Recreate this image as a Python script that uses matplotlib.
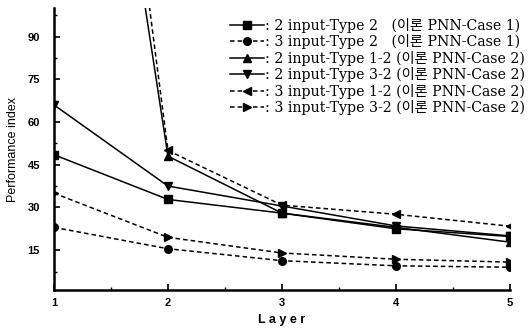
import numpy as np
import matplotlib.pyplot as plt
from matplotlib.ticker import MultipleLocator

# Data
layers = [1, 2, 3, 4, 5]
s_2in_t2 = [48.5, 32.8, 28.0, 22.5, 19.8]
s_3in_t2 = [23.0, 15.5, 11.3, 9.5, 9.0]
s_2in_t12 = [310.0, 48.0, 28.0, 23.0, 17.8]
s_2in_t32 = [66.0, 37.5, 30.5, 23.5, 20.0]
s_3in_t12 = [360.0, 50.0, 30.8, 27.6, 23.4]
s_3in_t32 = [35.0, 19.5, 14.0, 11.8, 10.8]

labels = [
    ": 2 input-Type 2   (이론 PNN-Case 1)",
    ": 3 input-Type 2   (이론 PNN-Case 1)",
    ": 2 input-Type 1-2 (이론 PNN-Case 2)",
    ": 2 input-Type 3-2 (이론 PNN-Case 2)",
    ": 3 input-Type 1-2 (이론 PNN-Case 2)",
    ": 3 input-Type 3-2 (이론 PNN-Case 2)",
]
series = [s_2in_t2, s_3in_t2, s_2in_t12, s_2in_t32, s_3in_t12, s_3in_t32]
markers = ["s", "o", "^", "v", "<", ">"]
styles = ["-", "--", "-", "-", "--", "--"]

fig = plt.figure(figsize=(5.29, 3.29), dpi=100, facecolor="white")
ax = fig.add_axes([0.102, 0.1185, 0.862, 0.857])

for vals, mk, ls, lab in zip(series, markers, styles, labels):
    ax.plot(layers, vals, color="black", linestyle=ls, linewidth=1.1,
            marker=mk, markersize=5.5, label=lab,
            dashes=(3, 2) if ls == "--" else (None, None))

ax.set_xlim(1, 5)
ax.set_ylim(1, 100)
ax.set_xticks(layers)
ax.set_yticks([15, 30, 45, 60, 75, 90])
ax.xaxis.set_minor_locator(MultipleLocator(0.5))
ax.yaxis.set_minor_locator(MultipleLocator(7.5))
ax.tick_params(which="major", direction="in", length=4, width=1.2,
               labelsize=8)
ax.tick_params(which="minor", direction="in", length=2.5, width=1.0)
for lbl in ax.get_xticklabels() + ax.get_yticklabels():
    lbl.set_fontweight("bold")
    lbl.set_family("Liberation Sans")
ax.tick_params(axis="x", pad=6)
ax.tick_params(axis="y", pad=10)

ax.spines["top"].set_visible(False)
ax.spines["right"].set_visible(False)
ax.spines["left"].set_linewidth(1.8)
ax.spines["bottom"].set_linewidth(1.8)

ax.set_xlabel("L a y e r", fontsize=9, fontweight="bold",
              family="Liberation Sans", labelpad=4)
ax.set_ylabel("Performance index", fontsize=9, family="Liberation Sans",
              labelpad=6)

ax.legend(loc="upper left", bbox_to_anchor=(0.386, 0.965), frameon=False,
          prop={"family": ["DejaVu Serif", "Noto Sans CJK KR"],
                "size": 10.2},
          handlelength=2.4, handletextpad=0.05, labelspacing=0.1,
          borderaxespad=0, borderpad=0)

fig.savefig("out.png", dpi=100, facecolor="white")
